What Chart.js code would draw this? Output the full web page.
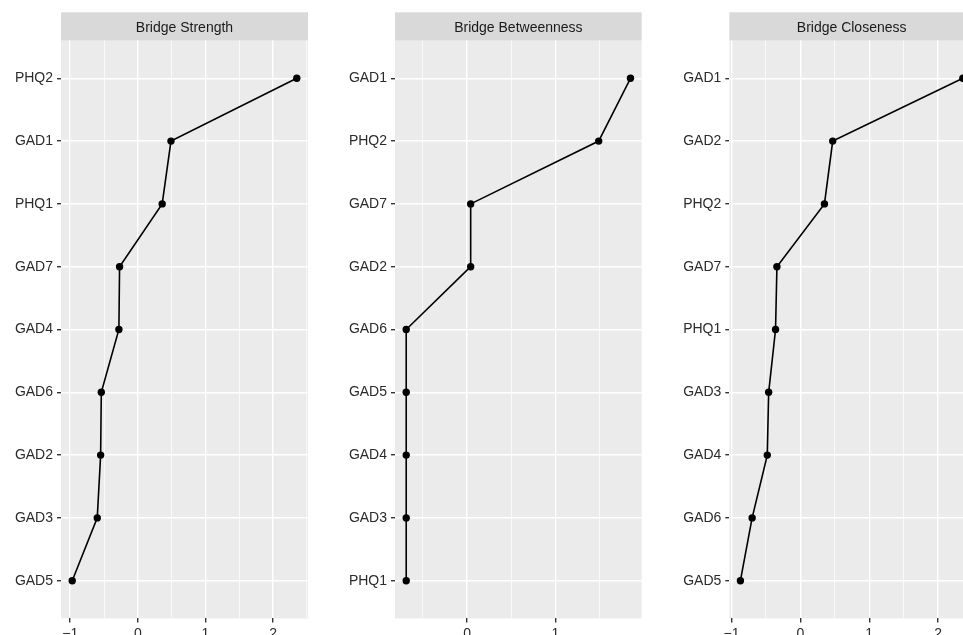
<!DOCTYPE html>
<html>
<head>
<meta charset="utf-8">
<script src="https://cdn.jsdelivr.net/npm/chart.js@4"></script>
<style>
  html, body { margin: 0; padding: 0; background: #fff; width: 963px; height: 635px; overflow: hidden; }
  #wrap { position: relative; width: 963px; height: 635px; overflow: hidden; }
  canvas { position: absolute; top: 0; }
</style>
</head>
<body>
<div id="wrap">
  <canvas id="strength" width="320" height="660" style="left:0px"></canvas>
  <canvas id="betweenness" width="330" height="660" style="left:320px"></canvas>
  <canvas id="closeness" width="340" height="660" style="left:650px"></canvas>
</div>
<script>
// data (top to bottom in each panel)
const strengthLabels = ["PHQ2", "GAD1", "PHQ1", "GAD7", "GAD4", "GAD6", "GAD2", "GAD3", "GAD5"];
const strengthValues = [2.35, 0.49, 0.36, -0.27, -0.28, -0.54, -0.55, -0.60, -0.97];

const betweennessLabels = ["GAD1", "PHQ2", "GAD7", "GAD2", "GAD6", "GAD5", "GAD4", "GAD3", "PHQ1"];
const betweennessValues = [1.85, 1.49, 0.04, 0.04, -0.69, -0.69, -0.69, -0.69, -0.69];

const closenessLabels = ["GAD1", "GAD2", "PHQ2", "GAD7", "PHQ1", "GAD3", "GAD4", "GAD6", "GAD5"];
const closenessValues = [2.36, 0.47, 0.35, -0.34, -0.36, -0.46, -0.48, -0.70, -0.87];

const FONT = "'Liberation Sans', Arial, sans-serif";

// gray panel + facet strip
const stripPlugin = {
  id: "strip",
  beforeDraw(chart, args, opts) {
    const { ctx, chartArea } = chart;
    ctx.save();
    ctx.fillStyle = "#EBEBEB";
    ctx.fillRect(chartArea.left, chartArea.top, chartArea.right - chartArea.left, chartArea.bottom - chartArea.top);
    ctx.fillStyle = "#D9D9D9";
    ctx.fillRect(chartArea.left, 12.3, chartArea.right - chartArea.left, chartArea.top - 12.3);
    ctx.fillStyle = "#1A1A1A";
    ctx.font = "14px " + FONT;
    ctx.textAlign = "center";
    ctx.textBaseline = "middle";
    ctx.fillText(opts.text, (chartArea.left + chartArea.right) / 2, (12.3 + chartArea.top) / 2 + 1.5);
    ctx.restore();
  }
};

function makePanel(id, title, labels, values, axisWidth, padRight) {
  const lo = Math.min(...values), hi = Math.max(...values);
  const pad = (hi - lo) * 0.05;
  const points = values.map((v, i) => ({ x: v, y: i }));

  return new Chart(document.getElementById(id), {
    type: "scatter",
    data: {
      datasets: [{
        data: points,
        showLine: true,
        borderColor: "#000",
        borderWidth: 1.6,
        backgroundColor: "#000",
        pointRadius: 3.7,
        pointHoverRadius: 3.7,
        pointBorderWidth: 0,
        clip: false
      }]
    },
    options: {
      responsive: false,
      animation: false,
      layout: { padding: { top: 40.6, right: padRight, left: 0, bottom: 0 } },
      plugins: {
        legend: { display: false },
        tooltip: { enabled: false },
        strip: { text: title }
      },
      scales: {
        x: {
          type: "linear",
          min: lo - pad,
          max: hi + pad,
          afterBuildTicks(scale) {
            const ticks = [];
            for (let v = Math.ceil(scale.min * 2) / 2; v <= scale.max; v += 0.5) ticks.push({ value: v });
            scale.ticks = ticks;
          },
          afterFit(scale) { scale.height = 41.6; },
          border: { display: false },
          grid: {
            color: "#FFFFFF",
            lineWidth: c => Number.isInteger(c.tick.value) ? 1.4 : 0.7,
            tickColor: c => Number.isInteger(c.tick.value) ? "#333333" : "rgba(0,0,0,0)",
            tickWidth: 1.4,
            tickLength: 4
          },
          ticks: {
            autoSkip: false,
            maxRotation: 0,
            padding: 3,
            color: "#2B2B2B",
            font: { family: FONT, size: 14 },
            callback: v => Number.isInteger(v) ? (v < 0 ? "\u2212" + Math.abs(v) : String(v)) : ""
          }
        },
        y: {
          type: "linear",
          reverse: true,
          min: -0.6,
          max: labels.length - 1 + 0.6,
          afterBuildTicks(scale) {
            scale.ticks = labels.map((l, i) => ({ value: i }));
          },
          afterFit(scale) { scale.width = axisWidth; },
          border: { display: false },
          grid: {
            color: "#FFFFFF",
            lineWidth: 1.4,
            tickColor: "#333333",
            tickLength: 4
          },
          ticks: {
            autoSkip: false,
            padding: 4,
            color: "#2B2B2B",
            font: { family: FONT, size: 14 },
            callback: v => labels[v]
          }
        }
      }
    },
    plugins: [stripPlugin]
  });
}

makePanel("strength", "Bridge Strength", strengthLabels, strengthValues, 61, 12);
makePanel("betweenness", "Bridge Betweenness", betweennessLabels, betweennessValues, 75, 8.3);
makePanel("closeness", "Bridge Closeness", closenessLabels, closenessValues, 79.3, 16);
</script>
</body>
</html>
